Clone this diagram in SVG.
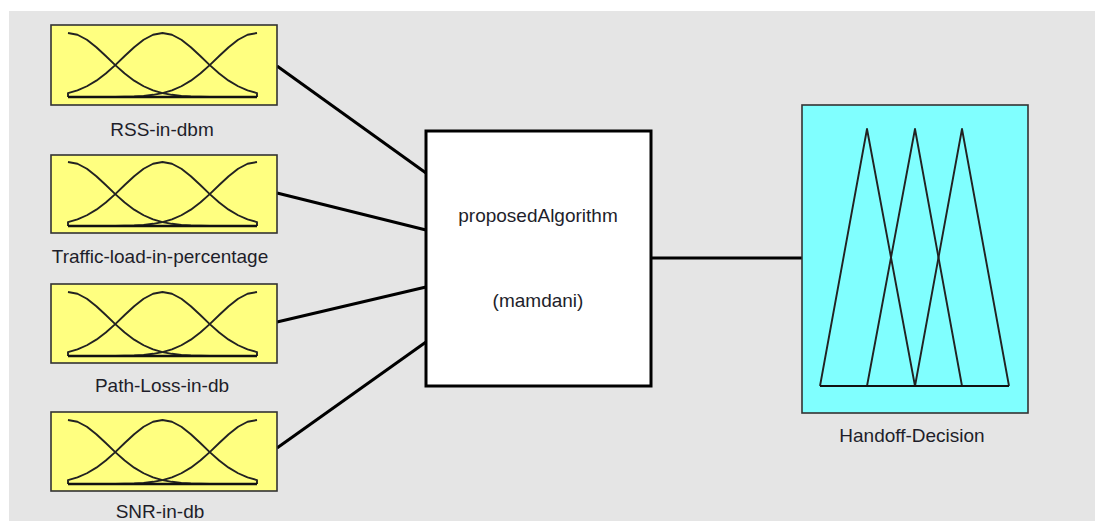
<svg xmlns="http://www.w3.org/2000/svg" width="1095" height="521" viewBox="0 0 1095 521">
<style>
  .lbl { font-family: "Liberation Sans", Arial, sans-serif; font-size: 19px; fill: #1e1e2a; text-anchor: middle; }
  .inbox { fill: #ffff80; stroke: #333333; stroke-width: 1.6; }
  .outbox { fill: #80ffff; stroke: #333333; stroke-width: 1.6; }
  .mf { fill: none; stroke: #222222; stroke-width: 1.9; stroke-linejoin: round; }
  .base { stroke: #111111; stroke-width: 2.6; }
  .conn { stroke: #000000; stroke-width: 3; fill: none; }
</style>
<defs>
  <g id="gaussmf">
    <polyline class="mf" points="17,8 26.45,9.76 35.9,14.78 45.35,22.21 54.8,31.04 64.25,40.13 73.7,48.58 83.15,55.68 92.6,61.25 102.05,65.34 111.5,68.07 120.95,69.81 130.4,70.85 139.85,71.42 149.3,71.73 158.75,72"/>
    <polyline class="mf" points="17,72 17,68.07 26.45,65.34 35.9,61.25 45.35,55.68 54.8,48.58 64.25,40.13 73.7,31.04 83.15,22.21 92.6,14.78 102.05,9.76 111.5,8 120.95,9.76 130.4,14.78 139.85,22.21 149.3,31.04 158.75,40.13 168.2,48.58 177.65,55.68 187.1,61.25 196.55,65.34 206,68.07 206,72"/>
    <polyline class="mf" points="64.25,72 73.7,71.73 83.15,71.42 92.6,70.85 102.05,69.81 111.5,68.07 120.95,65.34 130.4,61.25 139.85,55.68 149.3,48.58 158.75,40.13 168.2,31.04 177.65,22.21 187.1,14.78 196.55,9.76 206,8"/>
    <line class="base" x1="17" y1="72" x2="206" y2="72"/>
  </g>
</defs>
<rect x="0" y="0" width="1095" height="521" fill="#ffffff"/>
<rect x="9" y="11" width="1086" height="510" fill="#e5e5e5"/>

<g id="connectors">
  <line class="conn" x1="277" y1="66" x2="426" y2="173"/>
  <line class="conn" x1="277" y1="193" x2="426" y2="230"/>
  <line class="conn" x1="277" y1="322" x2="426" y2="287"/>
  <line class="conn" x1="277" y1="448" x2="426" y2="342"/>
  <line class="conn" x1="651" y1="258" x2="802" y2="258"/>
</g>

<g id="rss">
  <rect class="inbox" x="51" y="25" width="226" height="80"/>
  <use href="#gaussmf" transform="translate(51,25)"/>
  <text class="lbl" x="162" y="136">RSS-in-dbm</text>
</g>
<g id="traffic">
  <rect class="inbox" x="51" y="155" width="226" height="78"/>
  <use href="#gaussmf" transform="translate(51,154)"/>
  <text class="lbl" x="160" y="263">Traffic-load-in-percentage</text>
</g>
<g id="pathloss">
  <rect class="inbox" x="51" y="284" width="226" height="79"/>
  <use href="#gaussmf" transform="translate(51,284)"/>
  <text class="lbl" x="162" y="392">Path-Loss-in-db</text>
</g>
<g id="snr">
  <rect class="inbox" x="51" y="412" width="226" height="79"/>
  <use href="#gaussmf" transform="translate(51,412)"/>
  <text class="lbl" x="160" y="518">SNR-in-db</text>
</g>

<g id="algorithm">
  <rect x="426" y="131" width="225" height="255" fill="#ffffff" stroke="#000000" stroke-width="3"/>
  <text class="lbl" x="538" y="222">proposedAlgorithm</text>
  <text class="lbl" x="538" y="307">(mamdani)</text>
</g>

<g id="handoff">
  <rect class="outbox" x="802" y="105" width="226" height="308"/>
  <polyline class="mf" points="820,386 867,129 915,386"/>
  <polyline class="mf" points="867,386 915,129 962,386"/>
  <polyline class="mf" points="915,386 962,129 1009,386"/>
  <line x1="820" y1="386" x2="1009" y2="386" stroke="#111111" stroke-width="2"/>
  <text class="lbl" x="912" y="442">Handoff-Decision</text>
</g>
</svg>
